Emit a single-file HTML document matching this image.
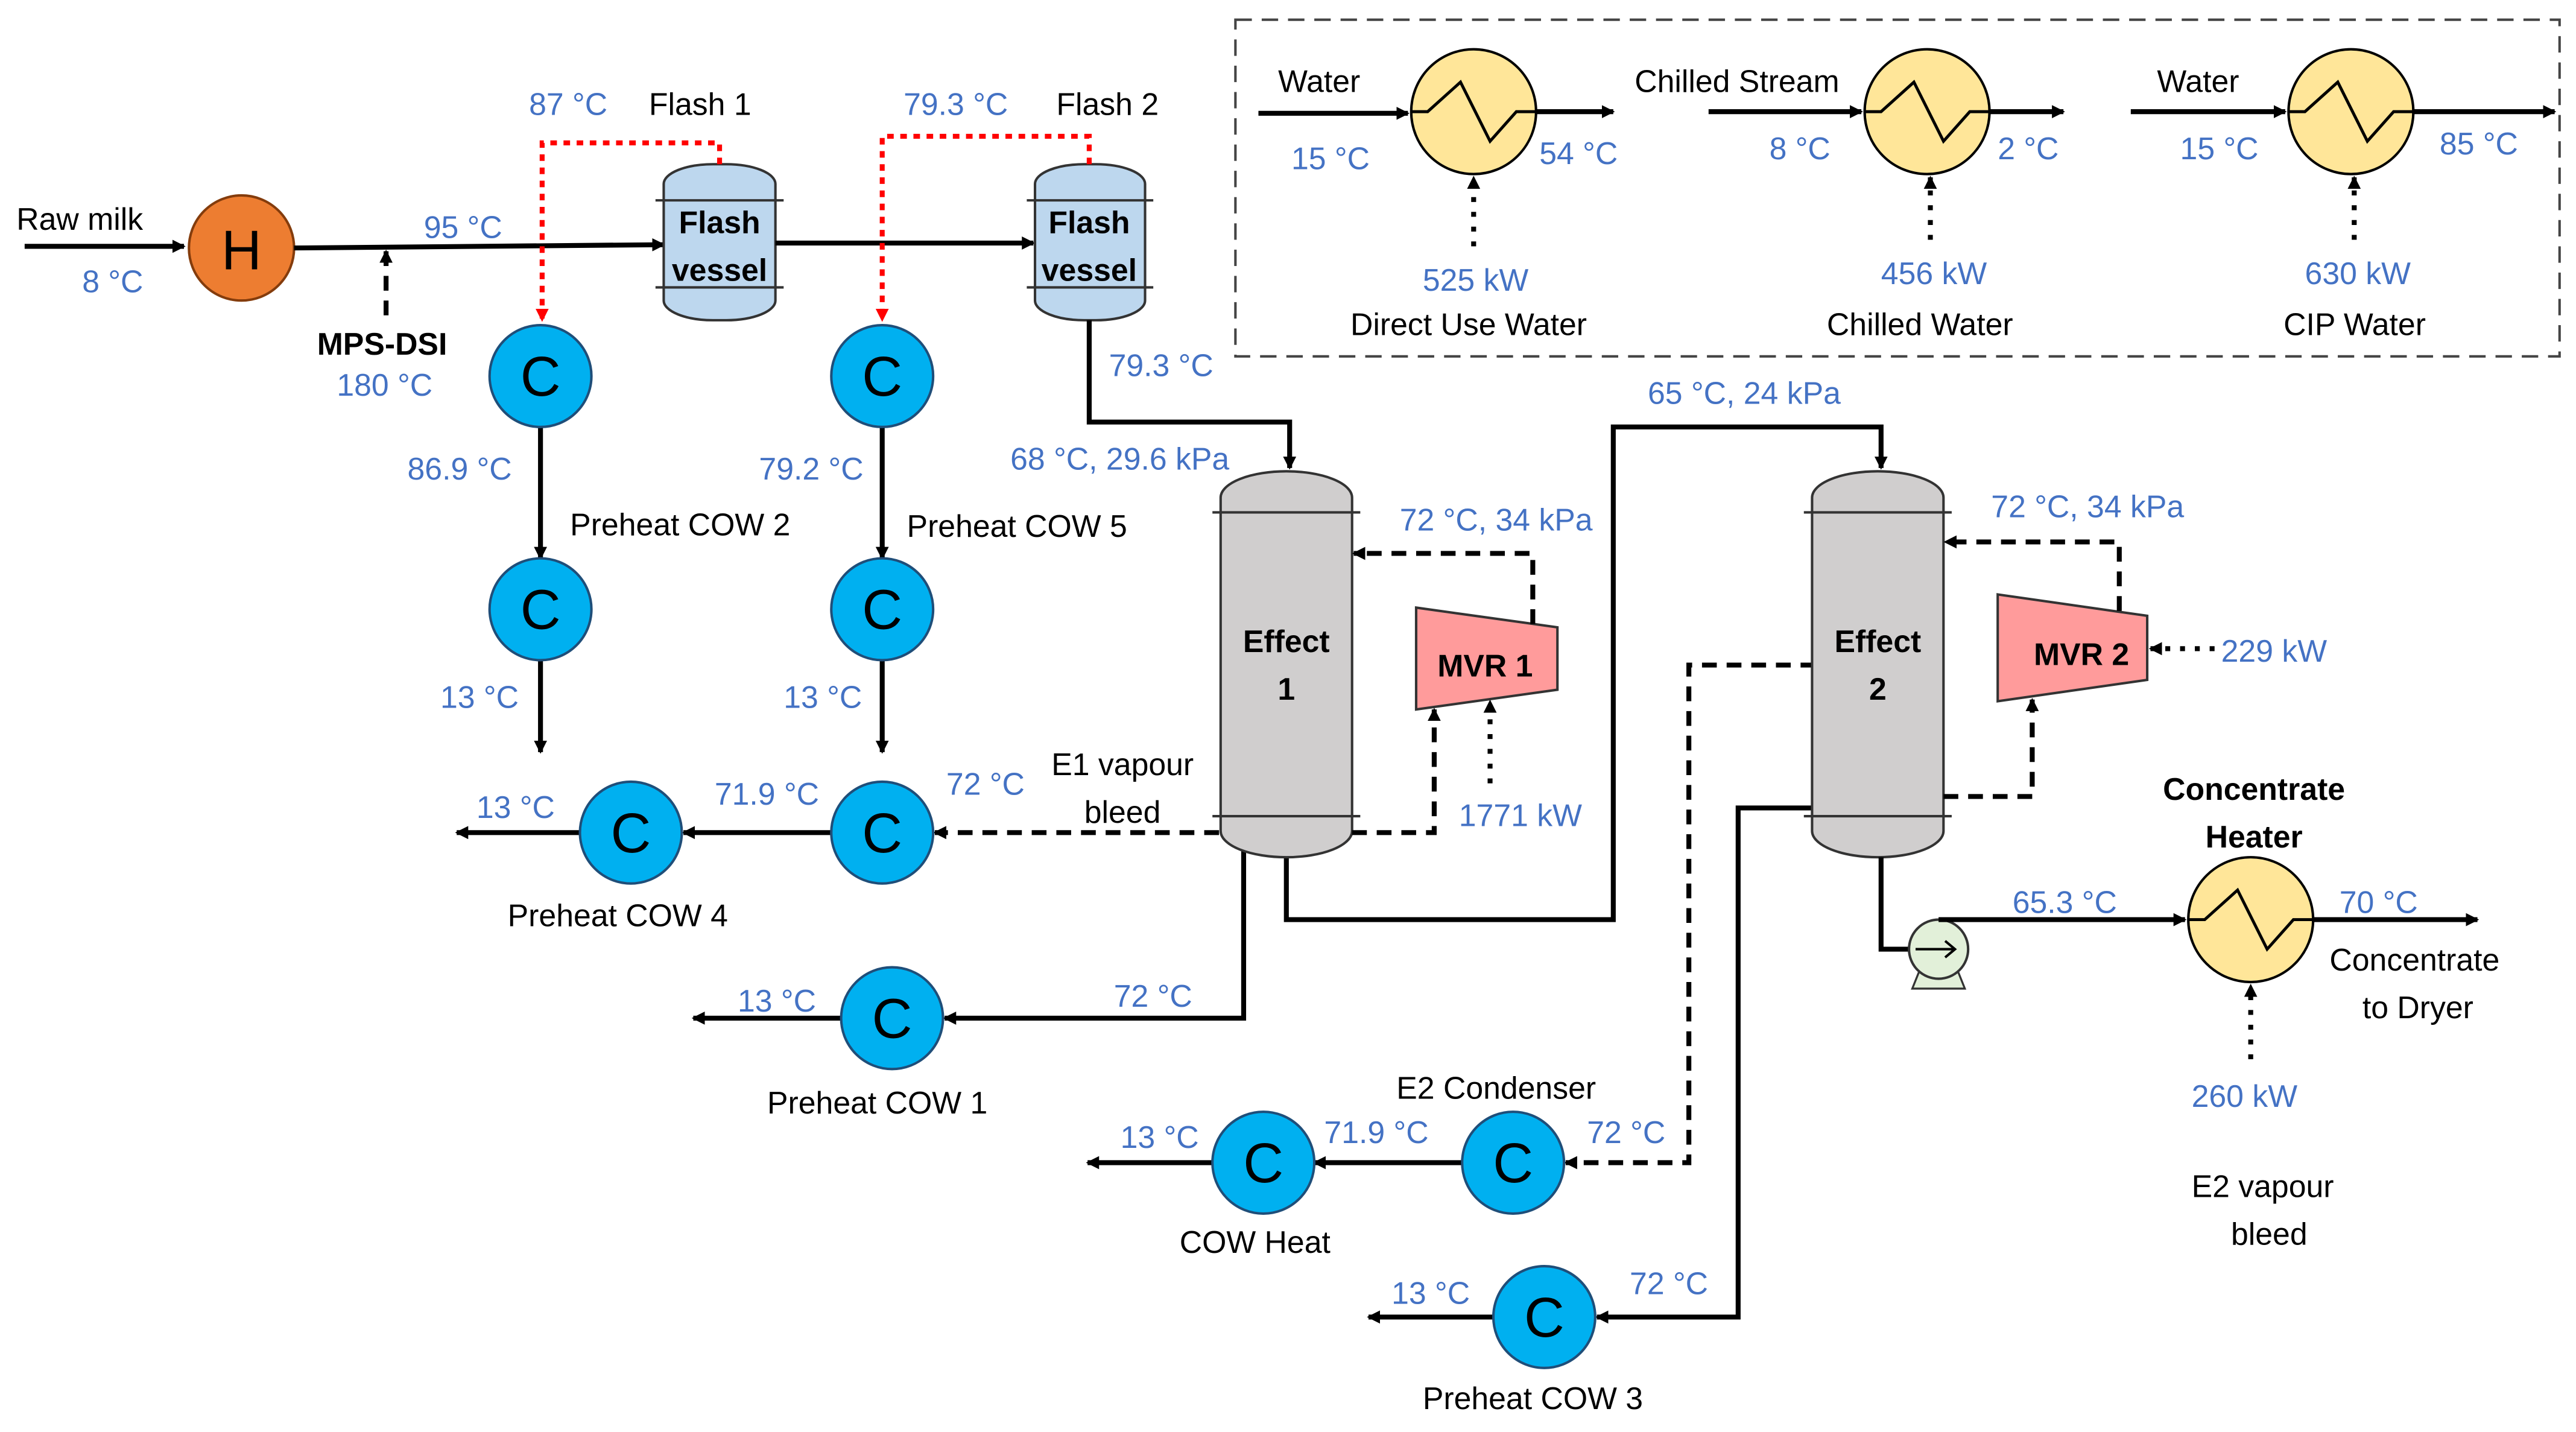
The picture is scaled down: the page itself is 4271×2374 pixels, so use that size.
<!DOCTYPE html>
<html><head><meta charset="utf-8"><style>
html,body{margin:0;padding:0;background:#fff;}
svg{display:block;}
text{font-family:"Liberation Sans",sans-serif;font-size:19px;}
.b{fill:#4472C4;}
.k{fill:#000;}
.bd{font-weight:bold;}
.ln{stroke:#000;stroke-width:3;fill:none;}
.ds{stroke:#000;stroke-width:3;fill:none;stroke-dasharray:9 6;}
.dt{stroke:#000;stroke-width:3;fill:none;stroke-dasharray:3 6;}
.rd{stroke:#f00;stroke-width:3;fill:none;stroke-dasharray:4 4;}
.c{fill:#00B0F0;stroke:#1F4E79;stroke-width:1.5;}
.ct{font-size:34px;fill:#000;}
.hx{fill:#FFE699;stroke:#000;stroke-width:1.5;}
.zz{stroke:#000;stroke-width:1.8;fill:none;}
</style></head><body>
<svg width="4271" height="2374" viewBox="0 0 1568 872" preserveAspectRatio="none" xmlns="http://www.w3.org/2000/svg">
<defs>
<marker id="a" markerWidth="8" markerHeight="8" refX="7" refY="4" orient="auto" markerUnits="userSpaceOnUse" viewBox="0 0 8 8"><path d="M0,0 L8,4 L0,8 z" fill="#000"/></marker>
<marker id="ar" markerWidth="8" markerHeight="8" refX="7" refY="4" orient="auto" markerUnits="userSpaceOnUse" viewBox="0 0 8 8"><path d="M0,0 L8,4 L0,8 z" fill="#f00"/></marker>
<path id="zg" d="M-38,0 L-28,0 L-8,-18 L10,18 L26,0 L38,0" />
</defs>
<rect width="1568" height="872" fill="#fff"/>

<rect x="752" y="12" width="806" height="205" fill="none" stroke="#444" stroke-width="1.5" stroke-dasharray="10 6"/>

<text x="10" y="140" class="k">Raw milk</text>
<path class="ln" d="M15,150 L112,150" marker-end="url(#a)"/>
<text x="50" y="178" class="b">8 °C</text>
<circle cx="147" cy="151" r="32" fill="#ED7D31" stroke="#843C0C" stroke-width="1.5"/>
<text x="147" y="164" text-anchor="middle" class="ct">H</text>
<path class="ln" d="M179,151 L404,149" marker-end="url(#a)"/>
<text x="258" y="145" class="b">95 °C</text>
<path class="ds" d="M235,192 L235,153" marker-end="url(#a)"/>
<text x="193" y="216" class="k bd">MPS-DSI</text>
<text x="205" y="241" class="b">180 °C</text>

<rect x="404" y="100" width="68" height="95" rx="30" ry="12" fill="#BDD7EE" stroke="#333" stroke-width="1.5"/>
<path d="M399,122 H477 M399,175 H477" stroke="#333" stroke-width="1.5"/>
<text x="438" y="142" text-anchor="middle" class="k bd">Flash</text>
<text x="438" y="171" text-anchor="middle" class="k bd">vessel</text>
<text x="395" y="70" class="k">Flash 1</text>
<text x="322" y="70" class="b">87 °C</text>
<path class="rd" d="M438,100 L438,87 L330,87 L330,195" marker-end="url(#ar)"/>
<path class="ln" d="M472,148 L629,148" marker-end="url(#a)"/>
<rect x="630" y="100" width="67" height="95" rx="30" ry="12" fill="#BDD7EE" stroke="#333" stroke-width="1.5"/>
<path d="M625,122 H702 M625,175 H702" stroke="#333" stroke-width="1.5"/>
<text x="663" y="142" text-anchor="middle" class="k bd">Flash</text>
<text x="663" y="171" text-anchor="middle" class="k bd">vessel</text>
<text x="643" y="70" class="k">Flash 2</text>
<text x="550" y="70" class="b">79.3 °C</text>
<path class="rd" d="M663,100 L663,83 L537,83 L537,195" marker-end="url(#ar)"/>
<path class="ln" d="M663,195 L663,257 L785,257 L785,285" marker-end="url(#a)"/>
<text x="675" y="229" class="b">79.3 °C</text>
<text x="615" y="286" class="b">68 °C, 29.6 kPa</text>

<path class="ln" d="M329,260 L329,340" marker-end="url(#a)"/>
<path class="ln" d="M329,402 L329,458" marker-end="url(#a)"/>
<text x="248" y="292" class="b">86.9 °C</text>
<text x="347" y="326" class="k">Preheat COW 2</text>
<text x="268" y="431" class="b">13 °C</text>
<path class="ln" d="M537,260 L537,340" marker-end="url(#a)"/>
<path class="ln" d="M537,402 L537,458" marker-end="url(#a)"/>
<text x="462" y="292" class="b">79.2 °C</text>
<text x="552" y="327" class="k">Preheat COW 5</text>
<text x="477" y="431" class="b">13 °C</text>

<path class="ds" d="M757,507 L569,507" marker-end="url(#a)"/>
<text x="576" y="484" class="b">72 °C</text>
<text x="640" y="472" class="k">E1 vapour</text>
<text x="660" y="501" class="k">bleed</text>
<path class="ln" d="M506,507 L416,507" marker-end="url(#a)"/>
<text x="435" y="490" class="b">71.9 °C</text>
<path class="ln" d="M353,507 L278,507" marker-end="url(#a)"/>
<text x="290" y="498" class="b">13 °C</text>
<text x="309" y="564" class="k">Preheat COW 4</text>

<path class="ln" d="M757,507 L757,620 L575,620" marker-end="url(#a)"/>
<text x="678" y="613" class="b">72 °C</text>
<path class="ln" d="M512,620 L422,620" marker-end="url(#a)"/>
<text x="449" y="616" class="b">13 °C</text>
<text x="467" y="678" class="k">Preheat COW 1</text>
<path class="ln" d="M783,522 L783,560 L982,560 L982,260 L1145,260 L1145,285" marker-end="url(#a)"/>
<text x="1003" y="246" class="b">65 °C, 24 kPa</text>

<rect x="743" y="287" width="80" height="235" rx="40" ry="16" fill="#D0CECE" stroke="#333" stroke-width="1.5"/>
<path d="M738,312 H828 M738,497 H828" stroke="#333" stroke-width="1.5"/>
<text x="783" y="397" text-anchor="middle" class="k bd">Effect</text>
<text x="783" y="426" text-anchor="middle" class="k bd">1</text>

<polygon points="862,370 948,382 948,420 862,432" fill="#FF9B9B" stroke="#333" stroke-width="1.5"/>
<text x="904" y="412" text-anchor="middle" class="k bd">MVR 1</text>
<path class="ds" d="M933,380 L933,337 L824,337" marker-end="url(#a)"/>
<text x="852" y="323" class="b">72 °C, 34 kPa</text>
<path class="ds" d="M823,507 L873,507 L873,432" marker-end="url(#a)"/>
<path class="dt" d="M907,477 L907,427" marker-end="url(#a)"/>
<text x="888" y="503" class="b">1771 kW</text>

<path class="ds" d="M1105,405 L1028,405 L1028,708 L953,708" marker-end="url(#a)"/>
<text x="966" y="696" class="b">72 °C</text>
<text x="850" y="669" class="k">E2 Condenser</text>
<path class="ln" d="M890,708 L800,708" marker-end="url(#a)"/>
<text x="806" y="696" class="b">71.9 °C</text>
<path class="ln" d="M738,708 L662,708" marker-end="url(#a)"/>
<text x="682" y="699" class="b">13 °C</text>
<text x="718" y="763" class="k">COW Heat</text>
<path class="ln" d="M1105,492 L1058,492 L1058,802 L972,802" marker-end="url(#a)"/>
<text x="992" y="788" class="b">72 °C</text>
<path class="ln" d="M909,802 L833,802" marker-end="url(#a)"/>
<text x="847" y="794" class="b">13 °C</text>
<text x="866" y="858" class="k">Preheat COW 3</text>

<rect x="1103" y="287" width="80" height="235" rx="40" ry="16" fill="#D0CECE" stroke="#333" stroke-width="1.5"/>
<path d="M1098,312 H1188 M1098,497 H1188" stroke="#333" stroke-width="1.5"/>
<text x="1143" y="397" text-anchor="middle" class="k bd">Effect</text>
<text x="1143" y="426" text-anchor="middle" class="k bd">2</text>

<polygon points="1216,362 1307,375 1307,414 1216,427" fill="#FF9B9B" stroke="#333" stroke-width="1.5"/>
<text x="1267" y="405" text-anchor="middle" class="k bd">MVR 2</text>
<path class="ds" d="M1290,372 L1290,330 L1184,330" marker-end="url(#a)"/>
<text x="1212" y="315" class="b">72 °C, 34 kPa</text>
<path class="dt" d="M1348,395 L1309,395" marker-end="url(#a)"/>
<text x="1352" y="403" class="b">229 kW</text>
<path class="ds" d="M1183,485 L1237,485 L1237,426" marker-end="url(#a)"/>

<path class="ln" d="M1145,522 L1145,578 L1165,578"/>
<polygon points="1168,592 1192,592 1196,602 1164,602" fill="#E2F0D9" stroke="#333" stroke-width="1.2"/>
<circle cx="1180" cy="578" r="18" fill="#E2F0D9" stroke="#333" stroke-width="1.5"/>
<path d="M1166,578 L1190,578 M1184,573 L1190,578 L1184,583" stroke="#000" stroke-width="1.5" fill="none"/>
<path class="ln" d="M1180,560 L1330,560" marker-end="url(#a)"/>
<text x="1225" y="556" class="b">65.3 °C</text>
<circle cx="1370" cy="560" r="38" class="hx"/>
<use href="#zg" x="1370" y="560" class="zz"/>
<text x="1372" y="487" text-anchor="middle" class="k bd">Concentrate</text>
<text x="1372" y="516" text-anchor="middle" class="k bd">Heater</text>
<path class="ln" d="M1408,560 L1508,560" marker-end="url(#a)"/>
<text x="1424" y="556" class="b">70 °C</text>
<text x="1418" y="591" class="k">Concentrate</text>
<text x="1438" y="620" class="k">to Dryer</text>
<path class="dt" d="M1370,645 L1370,600" marker-end="url(#a)"/>
<text x="1334" y="674" class="b">260 kW</text>
<text x="1334" y="729" class="k">E2 vapour</text>
<text x="1358" y="758" class="k">bleed</text>

<text x="778" y="56" class="k">Water</text>
<path class="ln" d="M766,69 L857,69" marker-end="url(#a)"/>
<text x="786" y="103" class="b">15 °C</text>
<circle cx="897" cy="68" r="38" class="hx"/>
<use href="#zg" x="897" y="68" class="zz"/>
<path class="ln" d="M935,68 L982,68" marker-end="url(#a)"/>
<text x="937" y="100" class="b">54 °C</text>
<path class="dt" d="M897,150 L897,108" marker-end="url(#a)"/>
<text x="866" y="177" class="b">525 kW</text>
<text x="822" y="204" class="k">Direct Use Water</text>

<text x="995" y="56" class="k">Chilled Stream</text>
<path class="ln" d="M1040,68 L1133,68" marker-end="url(#a)"/>
<text x="1077" y="97" class="b">8 °C</text>
<circle cx="1173" cy="68" r="38" class="hx"/>
<use href="#zg" x="1173" y="68" class="zz"/>
<path class="ln" d="M1211,68 L1256,68" marker-end="url(#a)"/>
<text x="1216" y="97" class="b">2 °C</text>
<path class="dt" d="M1175,146 L1175,108" marker-end="url(#a)"/>
<text x="1145" y="173" class="b">456 kW</text>
<text x="1112" y="204" class="k">Chilled Water</text>

<text x="1313" y="56" class="k">Water</text>
<path class="ln" d="M1297,68 L1391,68" marker-end="url(#a)"/>
<text x="1327" y="97" class="b">15 °C</text>
<circle cx="1431" cy="68" r="38" class="hx"/>
<use href="#zg" x="1431" y="68" class="zz"/>
<path class="ln" d="M1469,68 L1555,68" marker-end="url(#a)"/>
<text x="1485" y="94" class="b">85 °C</text>
<path class="dt" d="M1433,146 L1433,108" marker-end="url(#a)"/>
<text x="1403" y="173" class="b">630 kW</text>
<text x="1390" y="204" class="k">CIP Water</text>

<g>
<circle cx="329" cy="229" r="31" class="c"/><text x="329" y="241" text-anchor="middle" class="ct">C</text>
<circle cx="329" cy="371" r="31" class="c"/><text x="329" y="383" text-anchor="middle" class="ct">C</text>
<circle cx="537" cy="229" r="31" class="c"/><text x="537" y="241" text-anchor="middle" class="ct">C</text>
<circle cx="537" cy="371" r="31" class="c"/><text x="537" y="383" text-anchor="middle" class="ct">C</text>
<circle cx="384" cy="507" r="31" class="c"/><text x="384" y="519" text-anchor="middle" class="ct">C</text>
<circle cx="537" cy="507" r="31" class="c"/><text x="537" y="519" text-anchor="middle" class="ct">C</text>
<circle cx="543" cy="620" r="31" class="c"/><text x="543" y="632" text-anchor="middle" class="ct">C</text>
<circle cx="769" cy="708" r="31" class="c"/><text x="769" y="720" text-anchor="middle" class="ct">C</text>
<circle cx="921" cy="708" r="31" class="c"/><text x="921" y="720" text-anchor="middle" class="ct">C</text>
<circle cx="940" cy="802" r="31" class="c"/><text x="940" y="814" text-anchor="middle" class="ct">C</text>
</g>
</svg>
</body></html>
